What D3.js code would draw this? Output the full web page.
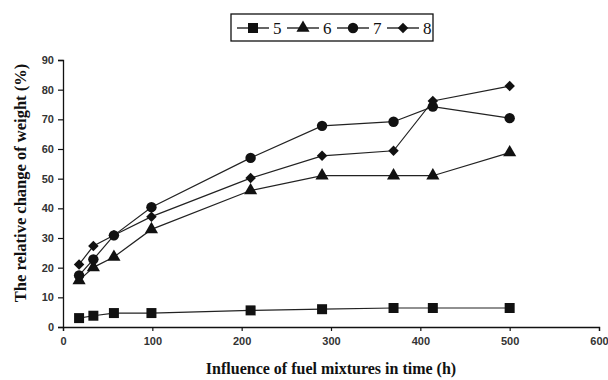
<!DOCTYPE html>
<html>
<head>
<meta charset="utf-8">
<script src="https://cdn.jsdelivr.net/npm/d3@7"></script>
<style>
  html, body { margin: 0; padding: 0; background: #fff; }
  svg { display: block; }
</style>
</head>
<body>
<div id="chart"></div>
<script>
// time (h)
const hours = [18, 34, 57, 99, 210, 290, 370, 414, 500];
const s5 = [3.0, 3.8, 4.7, 4.7, 5.6, 6.0, 6.4, 6.4, 6.4];
const s6 = [15.7, 20.1, 23.6, 32.9, 46.0, 51.0, 51.0, 51.0, 58.8];
const s7 = [17.4, 22.8, 30.9, 40.4, 57.0, 67.8, 69.2, 74.3, 70.4];
const s8 = [21.1, 27.3, 30.9, 37.2, 50.2, 57.7, 59.4, 76.2, 81.2];
const seriesNames = ["5", "6", "7", "8"];
const xTicks = [0, 100, 200, 300, 400, 500, 600];
const yTicks = [0, 10, 20, 30, 40, 50, 60, 70, 80, 90];

const W = 608, H = 380;
const margin = { top: 60, right: 9, bottom: 53, left: 63 };
const width = W - margin.left - margin.right;
const height = H - margin.top - margin.bottom;

const svg = d3.select("#chart").append("svg")
  .attr("width", W)
  .attr("height", H);

const g = svg.append("g")
  .attr("transform", `translate(${margin.left},${margin.top})`);

const x = d3.scaleLinear().domain([0, 600]).range([0, width]);
const y = d3.scaleLinear().domain([0, 90]).range([height, 0]);

const ink = "#111";
const tickFont = "'Liberation Sans', Arial, sans-serif";
const titleFont = "'Liberation Serif', 'Times New Roman', serif";

// diamond drawn as a rotated square so it is not elongated
const shapes = {
  "5": { type: d3.symbolSquare, size: 100, rotate: 0 },
  "6": { type: d3.symbolTriangle, size: 75, rotate: 0 },
  "7": { type: d3.symbolCircle, size: 85, rotate: 0 },
  "8": { type: d3.symbolSquare, size: 55, rotate: 45 }
};

const series = [s5, s6, s7, s8].map((vals, i) => ({
  name: seriesNames[i],
  values: vals.map((v, j) => ({ x: hours[j], y: v }))
}));

// axes
const xAxis = d3.axisBottom(x).tickValues(xTicks).tickSize(4).tickPadding(6);
const yAxis = d3.axisLeft(y).tickValues(yTicks).tickSize(5).tickPadding(4);

const xg = g.append("g")
  .attr("transform", `translate(0,${height})`)
  .call(xAxis);
const yg = g.append("g").call(yAxis);

[xg, yg].forEach(a => {
  a.select(".domain").attr("stroke", ink).attr("stroke-width", 1.3);
  a.selectAll(".tick line").attr("stroke", ink).attr("stroke-width", 1.2);
  a.selectAll(".tick text")
    .attr("fill", "#333")
    .style("font-family", tickFont)
    .style("font-size", "11px")
    .style("font-weight", "bold");
});

// lines
const line = d3.line().x(d => x(d.x)).y(d => y(d.y));

g.selectAll(".series-line")
  .data(series)
  .enter()
  .append("path")
  .attr("class", "series-line")
  .attr("fill", "none")
  .attr("stroke", "#222")
  .attr("stroke-width", 1.2)
  .attr("d", d => line(d.values));

// markers
series.forEach(s => {
  const sh = shapes[s.name];
  const sym = d3.symbol().type(sh.type).size(sh.size);
  g.selectAll(null)
    .data(s.values)
    .enter()
    .append("path")
    .attr("d", sym)
    .attr("fill", ink)
    .attr("transform", d => `translate(${x(d.x)},${y(d.y)}) rotate(${sh.rotate})`);
});

// axis titles
svg.append("text")
  .attr("x", 331)
  .attr("y", 374)
  .attr("text-anchor", "middle")
  .style("font-family", titleFont)
  .style("font-weight", "bold")
  .style("font-size", "16px")
  .attr("fill", ink)
  .text("Influence of fuel mixtures in time (h)");

svg.append("text")
  .attr("transform", "translate(26,183) rotate(-90)")
  .attr("text-anchor", "middle")
  .style("font-family", titleFont)
  .style("font-weight", "bold")
  .style("font-size", "16.5px")
  .attr("fill", ink)
  .text("The relative change of weight (%)");

// legend
const legend = svg.append("g").attr("transform", "translate(231,14)");
legend.append("rect")
  .attr("width", 202)
  .attr("height", 27)
  .attr("fill", "#fff")
  .attr("stroke", ink)
  .attr("stroke-width", 1.3);

const item = legend.selectAll(".item")
  .data(seriesNames)
  .enter()
  .append("g")
  .attr("class", "item")
  .attr("transform", (d, i) => `translate(${6 + i * 50},14)`);

item.append("line")
  .attr("x1", 0).attr("x2", 32)
  .attr("stroke", ink)
  .attr("stroke-width", 1.3);

item.append("path")
  .attr("d", d => d3.symbol().type(shapes[d].type).size(shapes[d].size)())
  .attr("fill", ink)
  .attr("transform", d => `translate(16,0) rotate(${shapes[d].rotate})`);

item.append("text")
  .attr("x", 36)
  .attr("y", 6)
  .style("font-family", titleFont)
  .style("font-size", "17px")
  .attr("fill", ink)
  .text(d => d);
</script>
</body>
</html>
